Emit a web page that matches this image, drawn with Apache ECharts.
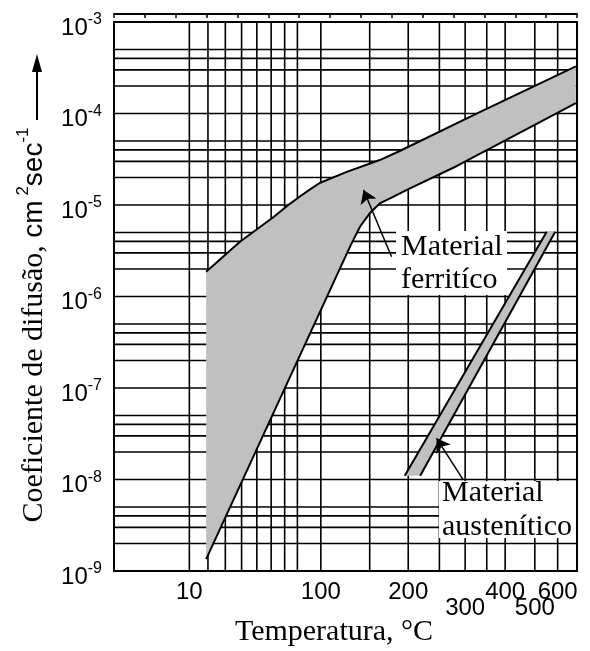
<!DOCTYPE html>
<html>
<head>
<meta charset="utf-8">
<script src="https://cdn.jsdelivr.net/npm/echarts@6/dist/echarts.min.js"></script>
<style>
  html, body { margin: 0; padding: 0; background: #fff; }
  #chart { width: 590px; height: 651px; }
</style>
</head>
<body>
<div id="chart"></div>
<script>
// temperatura em °C, coeficiente de difusão em cm2/s
const labelTemps = [10, 100, 200, 400, 600];
const labelTempsLow = [300, 500];
const gridTemps = [10, 20, 30, 40, 50, 60, 70, 80, 100, 150, 200, 250, 300, 350, 400, 500, 600];
const gridMantissa = [1, 2, 3, 4, 5];
const gridDecades = [-9, -8, -7, -6, -5, -4];

// material ferritico (faixa cinza)
const ferUpperT = [19, 39, 62, 74, 82, 90.5, 99, 125, 162, 188, 334, 700];
const ferUpperD = [1.87e-6, 3.97e-6, 7.45e-6, 1.03e-5, 1.24e-5, 1.48e-5, 1.74e-5, 2.30e-5, 3.10e-5, 3.89e-5, 1.04e-4, 3.27e-4];
const ferLowerT = [19, 123, 130, 139, 150, 162, 179, 198, 283, 458, 700];
const ferLowerD = [1.35e-9, 2.64e-6, 3.81e-6, 5.79e-6, 8.11e-6, 1.04e-5, 1.23e-5, 1.46e-5, 2.67e-5, 6.44e-5, 1.30e-4];

// material austenitico
const ausUpperT = [195, 549];
const ausUpperD = [1.1e-8, 5.1e-6];
const ausLowerT = [218, 588];
const ausLowerD = [1.1e-8, 5.1e-6];

// setas das legendas [T, D]
const arrowFer = [[177, 2.72e-6], [143, 1.46e-5]];
const arrowAus = [[296, 9.9e-9], [245, 2.82e-8]];

// eixo x = 1000/T(K)
const xMin = 1.02, xMax = 4.02;
function inv(t) { return 1000 / (t + 273.15); }
function pts(T, D) { return T.map((t, i) => [inv(t), D[i]]); }
function tempLabel(v) { return String(Math.round(1000 / v - 273.15)); }

const ferUpper = pts(ferUpperT, ferUpperD);
const ferLower = pts(ferLowerT, ferLowerD);
const ausUpper = pts(ausUpperT, ausUpperD);
const ausLower = pts(ausLowerT, ausLowerD);

const gridD = [];
gridDecades.forEach(e => gridMantissa.forEach(m => {
  if (!(m === 1 && e === -9)) gridD.push(m * Math.pow(10, e));
}));

const black = '#000';
const sans = 'Liberation Sans';
const serif = 'Liberation Serif';

function band(poly) {
  return {
    type: 'custom', xAxisIndex: 0, yAxisIndex: 0, z: 2, silent: true,
    data: [poly[0]],
    renderItem: function (params, api) {
      return {
        type: 'polygon',
        shape: { points: poly.map(p => api.coord(p)) },
        style: { fill: '#c0c0c0' }
      };
    }
  };
}
function edge(data) {
  return {
    type: 'line', xAxisIndex: 0, yAxisIndex: 0, z: 3, silent: true,
    data: data, symbol: 'none',
    lineStyle: { color: black, width: 2 }
  };
}
function arrow(a) {
  return [{ coord: [inv(a[0][0]), a[0][1]], symbol: 'none' },
          { coord: [inv(a[1][0]), a[1][1]], symbol: 'arrow', symbolSize: 13 }];
}
function seg(a, b) {
  return { type: 'line', shape: { x1: a[0], y1: a[1], x2: b[0], y2: b[1] }, style: { stroke: black, lineWidth: 1.6 } };
}

const chart = echarts.init(document.getElementById('chart'));
chart.setOption({
  animation: false,
  backgroundColor: '#fff',
  grid: { left: 114, right: 13, top: 22, bottom: 80, show: true, borderColor: black, borderWidth: 2 },
  xAxis: [
    {
      type: 'value', position: 'bottom', inverse: true, min: xMin, max: xMax,
      axisLine: { show: true, lineStyle: { color: black, width: 2 } },
      axisTick: { show: false },
      splitLine: { show: false },
      axisLabel: {
        customValues: labelTemps.map(inv), hideOverlap: false,
        margin: 9, color: black, fontFamily: sans, fontSize: 24,
        formatter: tempLabel
      }
    },
    {
      type: 'value', position: 'top', offset: 8, inverse: true,
      min: 1.0, max: 4.0, interval: 0.2,
      axisLine: { show: true, lineStyle: { color: black, width: 2 } },
      axisTick: { show: true, inside: true, length: 4, lineStyle: { color: black, width: 1.5 } },
      axisLabel: { show: false },
      splitLine: { show: false }
    },
    {
      type: 'value', position: 'bottom', inverse: true, min: xMin, max: xMax,
      axisLine: { show: false },
      axisTick: { show: false },
      splitLine: { show: false },
      axisLabel: {
        customValues: labelTempsLow.map(inv), hideOverlap: false,
        margin: 25, color: black, fontFamily: sans, fontSize: 24,
        formatter: tempLabel
      }
    }
  ],
  yAxis: {
    type: 'log', logBase: 10, min: 1e-9, max: 1e-3, interval: 1,
    axisLine: { show: true, lineStyle: { color: black, width: 2 } },
    axisTick: { show: false },
    splitLine: { show: false },
    axisLabel: {
      margin: 12,
      formatter: function (v) {
        return '{b|10}{s|' + Math.round(Math.log10(v)) + '}';
      },
      rich: {
        b: { fontFamily: sans, fontSize: 24, lineHeight: 24, color: black, padding: [12, 0, 0, 0] },
        s: { fontFamily: sans, fontSize: 16, lineHeight: 18, color: black, padding: [0, 0, 4, 0] }
      }
    }
  },
  series: [
    {
      // grade: linhas verticais em °C e horizontais em 1,2,3,4,5 x 10^n
      type: 'custom', xAxisIndex: 0, yAxisIndex: 0, z: 1, silent: true,
      data: [[inv(100), 1e-6]],
      renderItem: function (params, api) {
        const children = [];
        gridTemps.forEach(t => children.push(seg(api.coord([inv(t), 1e-9]), api.coord([inv(t), 1e-3]))));
        gridD.forEach(d => children.push(seg(api.coord([xMax, d]), api.coord([xMin, d]))));
        return { type: 'group', children: children };
      }
    },
    band(ferUpper.concat(ferLower.slice().reverse())),
    band(ausUpper.concat(ausLower.slice().reverse())),
    edge(ferUpper),
    edge(ferLower),
    edge(ausUpper),
    edge(ausLower),
    {
      type: 'line', xAxisIndex: 0, yAxisIndex: 0, silent: true,
      data: [], showSymbol: false,
      markLine: {
        z: 10, silent: true, animation: false,
        label: { show: false },
        lineStyle: { color: black, width: 1.5, type: 'solid' },
        emphasis: { disabled: true },
        data: [arrow(arrowFer), arrow(arrowAus)]
      }
    }
  ],
  graphic: [
    { type: 'rect', z: 100, shape: { x: 396, y: 231, width: 111, height: 64 }, style: { fill: '#fff' } },
    { type: 'text', z: 101, x: 401, y: 247, style: { text: 'Material', font: '30px "Liberation Serif"', fill: black, verticalAlign: 'middle' } },
    { type: 'text', z: 101, x: 401, y: 280, style: { text: 'ferritíco', font: '30px "Liberation Serif"', fill: black, verticalAlign: 'middle' } },
    { type: 'rect', z: 100, shape: { x: 439, y: 481, width: 137, height: 57 }, style: { fill: '#fff' } },
    { type: 'text', z: 101, x: 442, y: 493, style: { text: 'Material', font: '30px "Liberation Serif"', fill: black, verticalAlign: 'middle' } },
    { type: 'text', z: 101, x: 442, y: 527, style: { text: 'austenítico', font: '30px "Liberation Serif"', fill: black, verticalAlign: 'middle' } },
    { type: 'text', z: 101, x: 334, y: 632, style: { text: 'Temperatura, °C', font: '30px "Liberation Serif"', fill: black, align: 'center', verticalAlign: 'middle' } },
    {
      type: 'text', z: 101, x: 34, y: 325, rotation: Math.PI / 2,
      style: {
        text: '{t|Coeficiente de difusão, }{u|cm}{p| 2}{u|sec}{p|-1}',
        align: 'center', verticalAlign: 'middle',
        rich: {
          t: { fontFamily: serif, fontSize: 30, lineHeight: 30, fill: black },
          u: { fontFamily: sans, fontSize: 28, lineHeight: 28, fill: black },
          p: { fontFamily: sans, fontSize: 17, lineHeight: 17, fill: black, padding: [0, 0, 22, 0] }
        }
      }
    },
    { type: 'line', z: 101, shape: { x1: 37, y1: 120, x2: 37, y2: 68 }, style: { stroke: black, lineWidth: 2 } },
    { type: 'polygon', z: 101, shape: { points: [[37, 54], [32, 72], [42, 72]] }, style: { fill: black } }
  ]
});
</script>
</body>
</html>
